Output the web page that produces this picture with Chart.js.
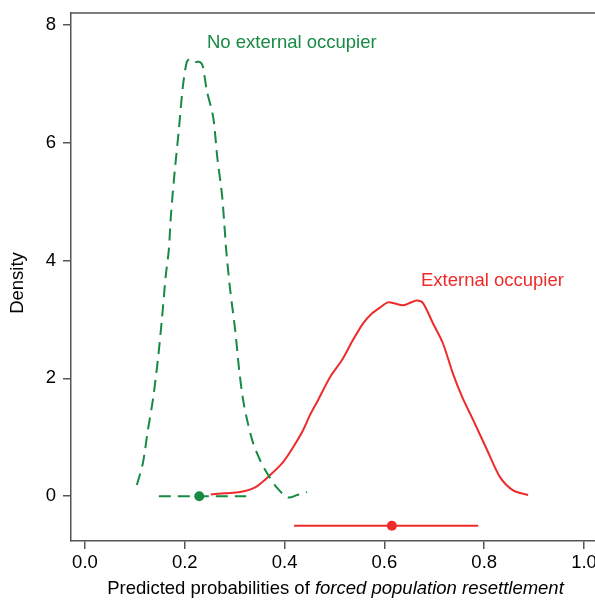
<!DOCTYPE html>
<html>
<head>
<meta charset="utf-8">
<script src="https://cdn.jsdelivr.net/npm/chart.js@4"></script>
<style>
  html, body { margin: 0; padding: 0; background: #fff; overflow: hidden; }
  #wrap { width: 595px; height: 603px; overflow: hidden; }
</style>
</head>
<body>
<div id="wrap"><canvas id="chart" width="595" height="603"></canvas></div>
<script>
// density curve, no external occupier (x, density)
const noOccX = [0.104, 0.116, 0.126, 0.136, 0.146, 0.154, 0.162, 0.168, 0.172, 0.180, 0.188, 0.196, 0.204, 0.210, 0.216, 0.222, 0.230, 0.236, 0.244, 0.257, 0.265, 0.275, 0.283, 0.291, 0.301, 0.309, 0.317, 0.325, 0.337, 0.351, 0.365, 0.385, 0.407, 0.425, 0.445];
const noOccY = [0.19, 0.56, 1.12, 1.63, 2.31, 2.99, 3.75, 4.18, 4.74, 5.53, 6.21, 6.94, 7.37, 7.42, 7.40, 7.37, 7.37, 7.30, 6.89, 6.43, 5.76, 5.08, 4.18, 3.50, 2.82, 2.14, 1.63, 1.29, 0.90, 0.61, 0.39, 0.14, -0.02, 0.02, 0.07];

// density curve, external occupier
const extOccX = [0.252, 0.281, 0.311, 0.341, 0.371, 0.397, 0.417, 0.437, 0.451, 0.467, 0.491, 0.515, 0.535, 0.557, 0.575, 0.591, 0.607, 0.621, 0.637, 0.651, 0.665, 0.677, 0.697, 0.717, 0.737, 0.756, 0.778, 0.806, 0.832, 0.858, 0.888];
const extOccY = [0.03, 0.05, 0.07, 0.15, 0.36, 0.58, 0.83, 1.12, 1.38, 1.63, 2.02, 2.31, 2.62, 2.93, 3.10, 3.20, 3.29, 3.27, 3.24, 3.28, 3.32, 3.28, 2.94, 2.60, 2.09, 1.68, 1.29, 0.78, 0.32, 0.10, 0.02];

// point estimates with intervals: [low, estimate, high], drawn at row height
const noOccCI = [0.148, 0.229, 0.323];
const noOccRow = 0;
const extOccCI = [0.419, 0.615, 0.788];
const extOccRow = -0.5;

const xTicks = [0, 0.2, 0.4, 0.6, 0.8, 1.0];
const yTicks = [0, 2, 4, 6, 8];

const GREEN = '#178a43';
const RED = '#ee2b2b';
const AXIS = '#555';
const FONT = '"Liberation Sans", Arial, Helvetica, sans-serif';
const FS = 18.5;

const pts = (xs, ys) => xs.map((x, i) => ({ x: x, y: ys[i] }));
const ciLine = (ci, row) => [{ x: ci[0], y: row }, { x: ci[2], y: row }];

const textPlugin = {
  id: 'texts',
  afterDraw(chart) {
    const ctx = chart.ctx;
    const a = chart.chartArea;
    ctx.save();
    // top frame line
    ctx.strokeStyle = AXIS;
    ctx.lineWidth = 1.5;
    ctx.beginPath();
    ctx.moveTo(a.left, a.top);
    ctx.lineTo(a.right, a.top);
    ctx.stroke();

    ctx.textBaseline = 'middle';
    ctx.font = FS + 'px ' + FONT;
    ctx.fillStyle = GREEN;
    ctx.textAlign = 'left';
    ctx.fillText('No external occupier', 207, 43);
    ctx.fillStyle = RED;
    ctx.fillText('External occupier', 421, 281);

    // x title with italic part
    const plain = 'Predicted probabilities of ';
    const ital = 'forced population resettlement';
    ctx.fillStyle = '#000';
    ctx.font = FS + 'px ' + FONT;
    const w1 = ctx.measureText(plain).width;
    ctx.font = 'italic ' + FS + 'px ' + FONT;
    const w2 = ctx.measureText(ital).width;
    const x0 = 335.5 - (w1 + w2) / 2;
    ctx.font = FS + 'px ' + FONT;
    ctx.fillText(plain, x0, 589);
    ctx.font = 'italic ' + FS + 'px ' + FONT;
    ctx.fillText(ital, x0 + w1, 589);

    // y title
    ctx.font = FS + 'px ' + FONT;
    ctx.translate(18, 283);
    ctx.rotate(-Math.PI / 2);
    ctx.textAlign = 'center';
    ctx.fillText('Density', 0, 0);
    ctx.restore();
  }
};

new Chart(document.getElementById('chart'), {
  type: 'scatter',
  data: {
    datasets: [
      { data: pts(noOccX, noOccY), showLine: true, borderColor: GREEN, borderWidth: 2, borderDash: [12, 7], pointRadius: 0, tension: 0.3 },
      { data: pts(extOccX, extOccY), showLine: true, borderColor: RED, borderWidth: 2, pointRadius: 0, tension: 0.3 },
      { data: ciLine(noOccCI, noOccRow), showLine: true, borderColor: GREEN, borderWidth: 2, borderDash: [12, 7], pointRadius: 0 },
      { data: ciLine(extOccCI, extOccRow), showLine: true, borderColor: RED, borderWidth: 2, pointRadius: 0 },
      { data: [{ x: noOccCI[1], y: noOccRow }], pointRadius: 5, pointBackgroundColor: GREEN, pointBorderWidth: 0 },
      { data: [{ x: extOccCI[1], y: extOccRow }], pointRadius: 5, pointBackgroundColor: RED, pointBorderWidth: 0 }
    ]
  },
  options: {
    responsive: false,
    animation: false,
    layout: { autoPadding: false, padding: { top: 13, right: 0, left: 0, bottom: 0 } },
    plugins: { legend: { display: false }, tooltip: { enabled: false } },
    scales: {
      x: {
        type: 'linear',
        min: -0.028,
        max: 1.022,
        afterBuildTicks(s) { s.ticks = xTicks.map(v => ({ value: v })); },
        afterFit(s) { s.height = 62; s.paddingLeft = 0; s.paddingRight = 0; },
        ticks: { color: '#000', font: { size: FS, family: FONT }, padding: 3, maxRotation: 0, autoSkip: false, callback: v => v.toFixed(1) },
        grid: { drawOnChartArea: false, drawTicks: true, tickLength: 8, color: AXIS, lineWidth: 1.5 },
        border: { display: true, color: AXIS, width: 1.5 }
      },
      y: {
        type: 'linear',
        min: -0.76,
        max: 8.2,
        afterBuildTicks(s) { s.ticks = yTicks.map(v => ({ value: v })); },
        afterFit(s) { s.width = 71; s.paddingTop = 0; s.paddingBottom = 0; },
        ticks: { color: '#000', font: { size: FS, family: FONT }, padding: 7, autoSkip: false, callback: v => String(v) },
        grid: { drawOnChartArea: false, drawTicks: true, tickLength: 8, color: AXIS, lineWidth: 1.5 },
        border: { display: true, color: AXIS, width: 1.5 }
      }
    }
  },
  plugins: [textPlugin]
});
</script>
</body>
</html>
